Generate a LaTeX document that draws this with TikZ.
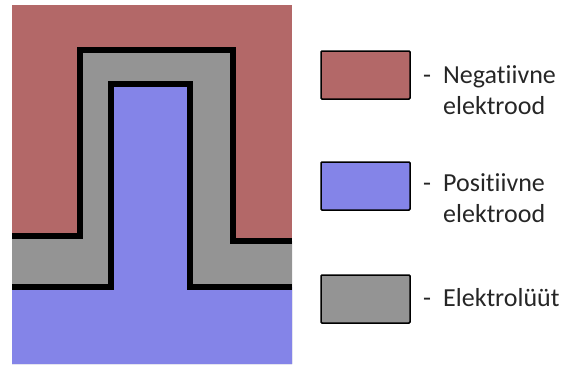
\documentclass[tikz,border=0pt]{standalone}
\usepackage{fontspec}
\setmainfont[Ligatures={NoCommon}]{Carlito}
\definecolor{negred}{RGB}{179,104,104}
\definecolor{posblue}{RGB}{132,132,232}
\definecolor{elgray}{RGB}{148,148,148}
\begin{document}
\begin{tikzpicture}[x=1pt,y=-1pt,
  border/.style={line width=6pt, line join=miter, line cap=butt},
  legbox/.style={draw=black, line width=1.5pt, rounded corners=1pt, minimum width=89pt, minimum height=48pt, inner sep=0pt},
  legtext/.style={anchor=base west, inner sep=0pt, align=left, font=\fontsize{26}{31}\selectfont, text=black!85}]
\useasboundingbox (0,0) rectangle (561,364);
% regions
\fill[negred] (12,5) rectangle (292,364);
\fill[elgray] (12,236) -- (80,236) -- (80,50) -- (233,50) -- (233,241) -- (292,241) -- (292,364) -- (12,364) -- cycle;
\fill[posblue] (12,287) -- (110.5,287) -- (110.5,84) -- (189.5,84) -- (189.5,287) -- (292,287) -- (292,364) -- (12,364) -- cycle;
% boundaries
\draw[border] (12,236) -- (80,236) -- (80,50) -- (233,50) -- (233,241) -- (292,241);
\draw[border] (12,287) -- (110.5,287) -- (110.5,84) -- (189.5,84) -- (189.5,287) -- (292,287);
% legend
\node[legbox, fill=negred] (bneg) at (365.5,75) {};
\node[legbox, fill=posblue] (bpos) at (365.5,186) {};
\node[legbox, fill=elgray] (bel) at (365.5,299) {};
\node[legtext] (tneg) at (423,114) {\makebox[20pt][l]{-}Negatiivne\\\hspace*{20pt}elektrood};
\node[legtext] (tpos) at (423,222) {\makebox[20pt][l]{-}Positiivne\\\hspace*{20pt}elektrood};
\node[legtext] (tel) at (423,306) {\makebox[20pt][l]{-}Elektrolüüt};
\end{tikzpicture}
\end{document}
